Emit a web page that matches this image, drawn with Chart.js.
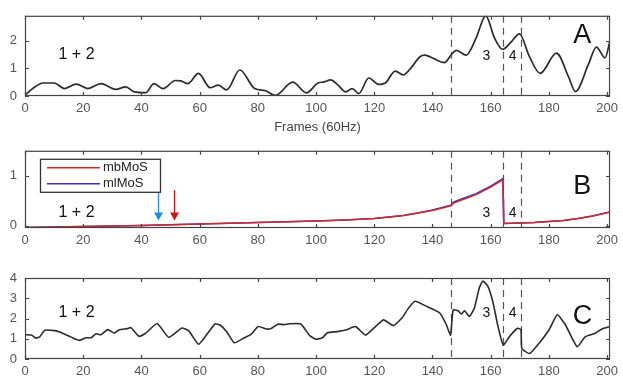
<!DOCTYPE html>
<html>
<head>
<meta charset="utf-8">
<script src="https://cdn.jsdelivr.net/npm/chart.js@4.4.1/dist/chart.umd.min.js"></script>
<style>
  body { margin: 0; background: #fff; width: 623px; height: 376px; overflow: hidden; position: relative; }
  canvas { position: absolute; left: 0; }
</style>
</head>
<body>
<canvas id="chartA" width="623" height="135" style="top:0px"></canvas>
<canvas id="chartB" width="623" height="115" style="top:135px"></canvas>
<canvas id="chartC" width="623" height="126" style="top:250px"></canvas>
<script>
// panel A - smooth signal
const framesA = [0, 3, 6.2, 10, 13.6, 17.6, 21.6, 26.1, 31.2, 34.6, 37.5, 41.5, 44.3, 47.4, 51.7, 53.5, 56, 59.6, 63.6, 66.4, 69.3, 73.8, 78.9, 82.6, 86, 92, 96.7, 100.5, 102.8, 105, 107.3, 110.2, 112.4, 114.7, 118.1, 121.5, 123.8, 127.2, 130, 132.5, 135.7, 137.4, 139.1, 144.2, 146.5, 148.2, 151.6, 155, 158.3, 161.3, 164.1, 167, 169.9, 173.2, 177, 182.6, 186.8, 189.1, 193.6, 196.3, 199.3, 201];
const valuesA = [0.03, 0.3, 0.47, 0.47, 0.27, 0.43, 0.27, 0.45, 0.24, 0.33, 0.15, 0.12, 0.45, 0.27, 0.56, 0.55, 0.45, 0.82, 0.3, 0.39, 0.22, 0.94, 0.27, 0.19, 0.02, 0.5, 0.11, 0.46, 0.51, 0.58, 0.42, 0.15, 0.27, 0.09, 0.65, 0.42, 0.47, 0.9, 0.76, 1.0, 1.42, 1.48, 1.42, 1.21, 1.5, 1.65, 1.48, 2.1, 2.9, 2.1, 1.69, 1.95, 2.25, 1.45, 0.82, 1.55, 0.68, 0.16, 1.15, 1.77, 1.38, 2.0];

// panel B - two MoS measures
const framesB = [0, 10, 20, 30, 40, 50, 60, 70, 80, 90, 100, 110, 120, 125, 130, 135, 140, 144, 146.5, 147.2, 150, 155, 160, 164.2, 164.5, 170, 175, 180, 185, 190, 195, 201];
const mbMoS = [-0.04, -0.03, -0.02, -0.01, 0, 0.015, 0.03, 0.045, 0.06, 0.075, 0.09, 0.11, 0.14, 0.17, 0.2, 0.25, 0.3, 0.36, 0.4, 0.45, 0.51, 0.62, 0.77, 0.92, 0.04, 0.05, 0.06, 0.08, 0.1, 0.14, 0.19, 0.27];
const mlMoS = [-0.04, -0.03, -0.02, -0.01, 0, 0.015, 0.03, 0.045, 0.06, 0.075, 0.09, 0.11, 0.14, 0.17, 0.2, 0.25, 0.31, 0.37, 0.41, 0.47, 0.53, 0.64, 0.79, 0.94, 0.04, 0.05, 0.06, 0.08, 0.1, 0.14, 0.19, 0.27];

// panel C - jagged signal
const framesC = [0, 2.2, 3.8, 5.1, 6.8, 10.2, 11.9, 15.9, 18.7, 21, 22.7, 24.4, 26.1, 28.4, 30.7, 32.4, 35.2, 36.4, 39.2, 41.5, 45.4, 49.4, 53.9, 56.2, 59.6, 61.9, 65.3, 67, 69.3, 71.9, 75, 77.8, 80.1, 82.9, 84.5, 86.9, 89, 90.9, 94.8, 97.7, 99.9, 102.2, 103.9, 107.3, 110.2, 113.6, 117, 120.4, 123.2, 126.6, 129.5, 131.7, 134, 138, 142.5, 144.8, 146.2, 147.1, 148.8, 149.9, 151, 152.7, 154.4, 156.1, 157.3, 159, 160.7, 162.4, 164.3, 166.4, 169.2, 170.4, 170.7, 173.4, 176.6, 180, 182.9, 185.7, 189.7, 192.5, 195.9, 198.2, 201];
const valuesC = [1.2, 1.18, 1.03, 1.1, 1.42, 1.4, 1.33, 1.08, 0.92, 1.05, 1.05, 1.25, 1.2, 1.45, 1.28, 1.45, 1.5, 1.55, 1.12, 1.28, 1.75, 1.07, 1.53, 1.4, 0.73, 1.1, 1.73, 1.68, 1.35, 0.8, 1.02, 1.23, 1.6, 1.48, 1.5, 1.72, 1.7, 1.74, 1.73, 1.17, 0.98, 1.05, 1.3, 1.35, 1.43, 1.6, 1.18, 1.6, 1.93, 1.65, 2.02, 2.5, 2.85, 2.6, 2.27, 1.68, 1.18, 2.43, 2.38, 2.22, 2.38, 2.1, 2.52, 3.52, 3.85, 3.6, 2.85, 1.68, 0.68, 1.1, 1.52, 1.45, 0.52, 0.27, 0.77, 1.43, 2.18, 1.68, 0.6, 1.1, 1.27, 1.48, 1.6];

const xTicks = [0, 20, 40, 60, 80, 100, 120, 140, 160, 180, 200];
const yTicksA = [0, 1, 2];
const yTicksB = [0, 1];
const yTicksC = [0, 1, 2, 3, 4];
const phaseLines = [146.5, 164.3, 170.5];

const FONT = "'Liberation Sans', Arial, sans-serif";

function pts(xs, ys) {
    return xs.map((x, i) => ({x: x, y: ys[i]}));
}

const panelDecor = {
    id: 'panelDecor',
    beforeDatasetsDraw(chart, args, opts) {
        const {ctx, chartArea: a, scales: {x}} = chart;
        ctx.save();
        ctx.strokeStyle = '#555';
        ctx.lineWidth = 1.2;
        ctx.setLineDash([7, 5]);
        phaseLines.forEach(f => {
            const px = Math.round(x.getPixelForValue(f)) + 0.5;
            ctx.beginPath();
            ctx.moveTo(px, a.top);
            ctx.lineTo(px, a.bottom);
            ctx.stroke();
        });
        ctx.restore();
    },
    afterDatasetsDraw(chart, args, opts) {
        const {ctx, chartArea: a, scales: {x, y}} = chart;
        ctx.save();
        // box + inward ticks
        ctx.strokeStyle = '#444';
        ctx.lineWidth = 1.2;
        ctx.strokeRect(a.left + 0.5, a.top + 0.5, a.width - 1, a.height - 1);
        ctx.beginPath();
        xTicks.forEach(v => {
            const px = Math.round(x.getPixelForValue(v)) + 0.5;
            ctx.moveTo(px, a.bottom); ctx.lineTo(px, a.bottom - 4);
            ctx.moveTo(px, a.top); ctx.lineTo(px, a.top + 4);
        });
        opts.yTicks.forEach(v => {
            const py = Math.round(y.getPixelForValue(v)) + 0.5;
            ctx.moveTo(a.left, py); ctx.lineTo(a.left + 4, py);
            ctx.moveTo(a.right, py); ctx.lineTo(a.right - 4, py);
        });
        ctx.stroke();

        // labels
        ctx.fillStyle = '#111';
        ctx.textAlign = 'center';
        ctx.textBaseline = 'middle';
        opts.texts.forEach(t => {
            ctx.font = t.size + 'px ' + FONT;
            ctx.fillText(t.text, x.getPixelForValue(t.x), y.getPixelForValue(t.y));
        });

        // arrows
        (opts.arrows || []).forEach(ar => {
            const px = Math.round(x.getPixelForValue(ar.x)) + 0.5;
            const y0 = y.getPixelForValue(ar.from);
            const y1 = y.getPixelForValue(ar.to);
            ctx.strokeStyle = ar.color;
            ctx.fillStyle = ar.color;
            ctx.lineWidth = 1.3;
            ctx.beginPath();
            ctx.moveTo(px, y0);
            ctx.lineTo(px, y1 - 7);
            ctx.stroke();
            ctx.beginPath();
            ctx.moveTo(px - 4.5, y1 - 8);
            ctx.lineTo(px + 4.5, y1 - 8);
            ctx.lineTo(px, y1);
            ctx.closePath();
            ctx.fill();
        });

        // legend box
        if (opts.legend) {
            const lx = a.left + 15, ly = a.top + 8, lw = 120, lh = 33;
            ctx.fillStyle = '#fff';
            ctx.fillRect(lx, ly, lw, lh);
            ctx.strokeStyle = '#333';
            ctx.lineWidth = 1.3;
            ctx.strokeRect(lx + 0.5, ly + 0.5, lw, lh);
            ctx.font = '13px ' + FONT;
            ctx.textAlign = 'left';
            chart.data.datasets.forEach((ds, i) => {
                const ry = ly + 9 + i * 16;
                ctx.strokeStyle = ds.borderColor;
                ctx.lineWidth = 1.5;
                ctx.beginPath();
                ctx.moveTo(lx + 7, ry);
                ctx.lineTo(lx + 60, ry);
                ctx.stroke();
                ctx.fillStyle = '#222';
                ctx.fillText(ds.label, lx + 63, ry);
            });
        }
        ctx.restore();
    }
};

function makeOptions(cfg) {
    return {
        responsive: false,
        animation: false,
        devicePixelRatio: 1,
        layout: { padding: { top: cfg.padTop, right: 8, left: 0, bottom: 0 } },
        plugins: {
            legend: { display: false },
            tooltip: { enabled: false },
            panelDecor: { yTicks: cfg.yTicks, texts: cfg.texts, arrows: cfg.arrows, legend: cfg.legend }
        },
        scales: {
            x: {
                type: 'linear', min: 0, max: 201,
                afterBuildTicks: s => { s.ticks = xTicks.map(v => ({value: v})); },
                afterFit: s => { s.height = cfg.xHeight; },
                grid: { display: false, drawTicks: false },
                border: { display: false },
                ticks: { font: { family: FONT, size: 13 }, color: '#555', padding: 5, maxRotation: 0, autoSkip: false },
                title: cfg.xTitle ? { display: true, text: cfg.xTitle, color: '#444', font: { family: FONT, size: 13 }, padding: { top: 0, bottom: 0 } } : { display: false }
            },
            y: {
                min: cfg.yMin, max: cfg.yMax,
                afterBuildTicks: s => { s.ticks = cfg.yTicks.map(v => ({value: v})); },
                afterFit: s => { s.width = 25; },
                grid: { display: false, drawTicks: false },
                border: { display: false },
                ticks: { font: { family: FONT, size: 13 }, color: '#555', padding: 8 }
            }
        }
    };
}

new Chart('chartA', {
    type: 'line',
    data: { datasets: [{ label: 'A', data: pts(framesA, valuesA), borderColor: '#2b2b2b', borderWidth: 1.7, pointRadius: 0, cubicInterpolationMode: 'monotone' }] },
    options: makeOptions({
        padTop: 14, xHeight: 39, yMin: 0, yMax: 2.9, yTicks: yTicksA, xTitle: 'Frames (60Hz)',
        texts: [
            { text: '1 + 2', x: 17.7, y: 1.48, size: 16 },
            { text: '3', x: 158.5, y: 1.45, size: 14 },
            { text: '4', x: 167.5, y: 1.45, size: 14 },
            { text: 'A', x: 191.5, y: 2.2, size: 27 }
        ]
    }),
    plugins: [panelDecor]
});

new Chart('chartB', {
    type: 'line',
    data: { datasets: [
        { label: 'mbMoS', data: pts(framesB, mbMoS), borderColor: '#cc2b2b', borderWidth: 1.6, pointRadius: 0 },
        { label: 'mlMoS', data: pts(framesB, mlMoS), borderColor: '#3a2fc2', borderWidth: 1.6, pointRadius: 0 }
    ] },
    options: makeOptions({
        padTop: 10, xHeight: 22, yMin: -0.05, yMax: 1.5, yTicks: yTicksB, legend: true,
        texts: [
            { text: '1 + 2', x: 17.7, y: 0.25, size: 16 },
            { text: '3', x: 158.5, y: 0.25, size: 14 },
            { text: '4', x: 167.5, y: 0.25, size: 14 },
            { text: 'B', x: 191.5, y: 0.79, size: 27 }
        ],
        arrows: [
            { x: 45.7, from: 0.71, to: 0.1, color: '#1f8ee0' },
            { x: 51.3, from: 0.71, to: 0.1, color: '#d01515' }
        ]
    }),
    plugins: [panelDecor]
});

new Chart('chartC', {
    type: 'line',
    data: { datasets: [{ label: 'C', data: pts(framesC, valuesC), borderColor: '#2b2b2b', borderWidth: 1.6, pointRadius: 0, tension: 0.15 }] },
    options: makeOptions({
        padTop: 28, xHeight: 17, yMin: 0, yMax: 4, yTicks: yTicksC,
        texts: [
            { text: '1 + 2', x: 17.7, y: 2.3, size: 16 },
            { text: '3', x: 158.5, y: 2.27, size: 14 },
            { text: '4', x: 167.5, y: 2.25, size: 14 },
            { text: 'C', x: 191.5, y: 2.1, size: 27 }
        ]
    }),
    plugins: [panelDecor]
});
</script>
</body>
</html>
